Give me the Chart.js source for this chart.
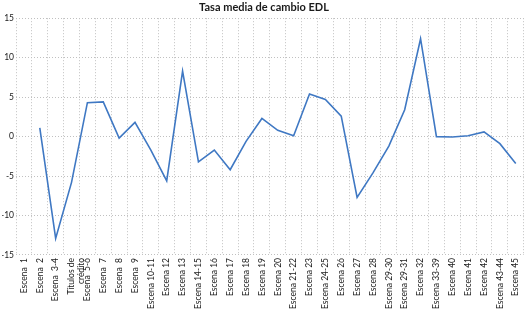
<!DOCTYPE html>
<html lang="es">
<head>
  <meta charset="UTF-8">
  <title>Tasa media de cambio EDL</title>
  <script src="https://cdn.jsdelivr.net/npm/chart.js"></script>
  <style>
    html, body { margin: 0; padding: 0; background: #fff; }
    #wrap { width: 529px; height: 312px; position: relative; }
  </style>
</head>
<body>
<div id="wrap"><canvas id="chart"></canvas></div>
<script>
const escenas = [
  'Escena  1', 'Escena  2', 'Escena  3-4', ['Títulos de', 'crédito'], 'Escena  5-6', 'Escena  7',
  'Escena  8', 'Escena  9', 'Escena 10-11', 'Escena 12', 'Escena 13', 'Escena 14-15',
  'Escena 16', 'Escena 17', 'Escena 18', 'Escena 19', 'Escena 20', 'Escena 21-22',
  'Escena 23', 'Escena 24-25', 'Escena 26', 'Escena 27', 'Escena 28', 'Escena 29-30',
  'Escena 29-31', 'Escena 32', 'Escena 33-39', 'Escena 40', 'Escena 41', 'Escena 42',
  'Escena 43-44', 'Escena 45'
];
const tasaMedia = [
  null, 1.1, -12.9, -5.8, 4.3, 4.4,
  -0.2, 1.8, -1.7, -5.6, 8.3, -3.2,
  -1.7, -4.2, -0.6, 2.3, 0.8, 0.1,
  5.4, 4.7, 2.6, -7.7, -4.6, -1.2,
  3.4, 12.4, 0.0, -0.05, 0.1, 0.6,
  -0.9, -3.4
];
const yMin = -15, yMax = 15, yStep = 5;

const tickFont = { family: 'Lato', size: 8.5 };
const gridColor = '#c0c0c0';

new Chart(document.getElementById('chart'), {
  type: 'line',
  data: {
    labels: escenas,
    datasets: [{
      label: 'Tasa media de cambio EDL',
      data: tasaMedia,
      borderColor: '#3f78c3',
      borderWidth: 1.6,
      pointRadius: 0,
      tension: 0,
      spanGaps: false
    }]
  },
  options: {
    responsive: true,
    maintainAspectRatio: false,
    animation: false,
    layout: { padding: { top: 0, right: 3, bottom: 0, left: 2 } },
    plugins: {
      legend: { display: false },
      tooltip: { enabled: false },
      title: {
        display: true,
        text: 'Tasa media de cambio EDL',
        color: '#1a1a1a',
        font: { family: 'Lato', size: 11, weight: 'bold' },
        padding: { top: 1, bottom: 4 }
      }
    },
    scales: {
      x: {
        offset: true,
        grid: { offset: true, color: gridColor, lineWidth: 1, drawTicks: false },
        border: { display: false, dash: [1, 2] },
        ticks: {
          color: '#1a1a1a',
          font: tickFont,
          minRotation: 90,
          maxRotation: 90,
          autoSkip: false,
          padding: 3
        }
      },
      y: {
        min: yMin,
        max: yMax,
        afterFit: (scale) => { scale.width = 14; },
        grid: { color: gridColor, lineWidth: 1, drawTicks: false },
        border: { display: false, dash: [1, 2] },
        ticks: {
          stepSize: yStep,
          color: '#1a1a1a',
          font: tickFont,
          padding: 2
        }
      }
    }
  }
});
</script>
</body>
</html>
